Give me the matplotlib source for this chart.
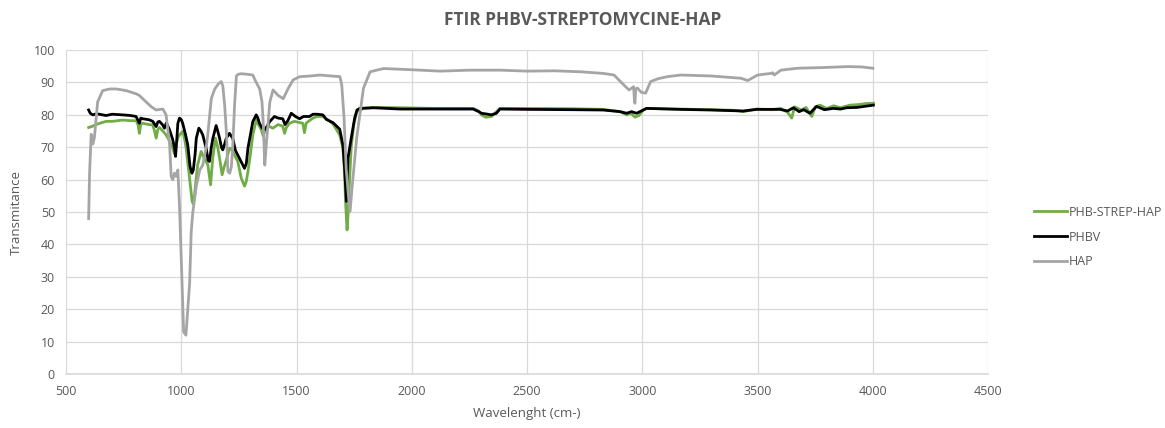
import numpy as np
import matplotlib
matplotlib.use("Agg")
import matplotlib.pyplot as plt

plt.rcParams['font.family'] = ['Open Sans', 'DejaVu Sans']

# ---- data (wavenumber, transmittance) ----
phb_strep_hap = [
    (598, 76.1), (615, 76.5), (630, 77), (650, 77.5), (674, 78), (700, 78), (746, 78.4),
    (780, 78.2), (804, 78.2), (812, 77), (818, 74.3), (824, 77.2), (833, 77.4), (860, 77),
    (876, 76.9), (884, 75), (891, 72.8), (898, 75.5), (905, 76.1), (920, 75), (934, 73.8),
    (945, 72.5), (956, 70.7), (963, 69.7), (970, 68), (978, 71), (985, 73), (992, 73.8),
    (1006, 74.9), (1014, 72.5), (1021, 69.7), (1030, 64), (1036, 60.5), (1047, 53.3),
    (1052, 52.5), (1057, 55), (1064, 60), (1071, 64.6), (1086, 68.7), (1093, 67.5),
    (1100, 66.6), (1115, 64.6), (1122, 61), (1127, 58.4), (1132, 63), (1137, 67),
    (1148, 72.8), (1158, 70), (1166, 66.6), (1177, 61.5), (1186, 64), (1195, 66),
    (1209, 69.7), (1216, 69.5), (1223, 68.7), (1235, 67), (1245, 65.6), (1260, 60.5),
    (1274, 58), (1282, 59.5), (1289, 62.5), (1300, 68), (1310, 73.8), (1325, 78.4),
    (1335, 77), (1347, 75.4), (1355, 73.5), (1368, 75.9), (1380, 76.5), (1397, 75.9),
    (1420, 77), (1440, 76.5), (1448, 74.3), (1455, 76), (1469, 77.4), (1490, 78),
    (1527, 77.4), (1534, 74.5), (1542, 77.5), (1571, 79), (1590, 79.5), (1614, 79.5),
    (1635, 78.5), (1658, 77.2), (1687, 73.8), (1701, 69.7), (1708, 62), (1713, 52.2),
    (1719, 44.5), (1724, 50), (1730, 60), (1737, 70), (1748, 77), (1761, 81), (1790, 82),
    (1850, 82.3), (1950, 82.2), (2100, 82), (2266, 82), (2290, 81.2), (2302, 80),
    (2320, 79.3), (2345, 79.5), (2360, 80.5), (2382, 82), (2500, 82), (2700, 81.9),
    (2830, 81.7), (2903, 81), (2932, 80), (2950, 80.5), (2968, 79.3), (2985, 79.8),
    (3004, 81.5), (3018, 82), (3163, 81.8), (3300, 81.6), (3400, 81.4), (3438, 81),
    (3496, 81.8), (3560, 81.6), (3600, 82), (3630, 80.8), (3648, 79), (3660, 82.5),
    (3690, 81.5), (3710, 82.3), (3735, 79.5), (3750, 82.5), (3770, 83), (3800, 82),
    (3830, 82.8), (3860, 82.2), (3900, 83), (3940, 83.2), (3970, 83.5), (4002, 83.6),
]

phbv = [
    (598, 81.5), (605, 80.5), (616, 80), (630, 80.3), (645, 80.2), (673, 79.8), (700, 80.2),
    (746, 80), (780, 79.8), (804, 79.5), (818, 77.4), (824, 79), (833, 78.8), (860, 78.5),
    (876, 78), (891, 76.4), (898, 77.8), (905, 78), (918, 77), (927, 75.9), (935, 77.5),
    (949, 75.4), (963, 72.3), (970, 70), (975, 67.2), (980, 72), (985, 77.4), (992, 79),
    (1000, 78.5), (1006, 77.4), (1018, 74), (1028, 70.7), (1038, 64), (1046, 62),
    (1052, 63), (1060, 68), (1065, 72.8), (1076, 75.9), (1085, 75), (1093, 73.8),
    (1108, 69.7), (1116, 66), (1122, 65.6), (1130, 70), (1137, 72.8), (1151, 76.7),
    (1158, 75), (1166, 72.8), (1174, 70), (1180, 69.2), (1188, 71), (1195, 72.8),
    (1209, 74.3), (1216, 73.5), (1223, 72.8), (1235, 69), (1245, 67.6), (1260, 65.5),
    (1274, 63.5), (1282, 65), (1289, 69.7), (1300, 74), (1310, 77.9), (1325, 80),
    (1332, 79), (1339, 77.4), (1350, 76), (1361, 75.4), (1372, 76.5), (1383, 77.9),
    (1404, 79.5), (1420, 79), (1440, 78.8), (1450, 77), (1462, 78.2), (1477, 80.5),
    (1495, 79.5), (1513, 78.8), (1530, 79.5), (1556, 79.5), (1571, 80.2), (1590, 80.2),
    (1614, 80), (1629, 78.6), (1658, 77.6), (1687, 75.6), (1701, 70.7), (1708, 64),
    (1716, 53.3), (1723, 66.6), (1737, 72.8), (1752, 79), (1762, 81.5), (1774, 82),
    (1832, 82.2), (1948, 81.8), (2092, 81.8), (2266, 81.8), (2290, 81), (2302, 80.5),
    (2330, 80.2), (2345, 80), (2367, 80.5), (2382, 81.8), (2500, 81.7), (2700, 81.6),
    (2830, 81.5), (2903, 81), (2932, 80.5), (2953, 81), (2975, 80.5), (3004, 81.5),
    (3018, 82), (3163, 81.7), (3300, 81.5), (3400, 81.3), (3438, 81.2), (3496, 81.7),
    (3597, 81.7), (3630, 81.2), (3655, 82.2), (3680, 81), (3700, 81.6), (3727, 80.5),
    (3740, 81.5), (3756, 82.6), (3790, 81.6), (3828, 82), (3860, 81.8), (3886, 82.2),
    (3930, 82.3), (3960, 82.6), (4002, 83),
]

hap = [
    (598, 48), (602, 62), (609, 74), (616, 71), (623, 73), (637, 84), (659, 87.5),
    (690, 88), (717, 88), (760, 87.5), (804, 86.5), (818, 86), (847, 84), (870, 82.5),
    (891, 81.5), (920, 81.8), (934, 80), (949, 71), (956, 61), (963, 60), (970, 62),
    (977, 61), (985, 63), (992, 52), (1000, 35), (1010, 13), (1020, 12), (1036, 28),
    (1043, 44), (1050, 50), (1065, 58), (1071, 60), (1080, 63), (1093, 64.5), (1108, 70),
    (1115, 74), (1130, 85), (1145, 88), (1160, 89.5), (1173, 90.3), (1180, 89), (1188, 83),
    (1196, 74), (1202, 62.5), (1210, 62), (1217, 64), (1223, 70), (1231, 83), (1239, 92),
    (1246, 92.5), (1260, 92.7), (1290, 92.5), (1310, 92.3), (1325, 90), (1340, 88),
    (1350, 84), (1355, 78), (1362, 64.5), (1370, 72), (1384, 84), (1398, 87.7), (1420, 86),
    (1442, 85), (1464, 88.2), (1485, 90.8), (1514, 91.8), (1560, 92), (1601, 92.3),
    (1650, 92), (1688, 91.8), (1696, 89.2), (1706, 79), (1715, 63.5), (1725, 55),
    (1732, 50.2), (1740, 57), (1761, 73), (1790, 88.2), (1819, 93.3), (1877, 94.3),
    (1978, 94), (2123, 93.5), (2250, 93.8), (2384, 93.8), (2500, 93.5), (2620, 93.6),
    (2732, 93.3), (2830, 92.8), (2877, 92.3), (2920, 89.2), (2942, 87.7), (2962, 88.7),
    (2966, 84), (2968, 83.6), (2971, 88), (2978, 88.3), (2995, 87), (3014, 86.7),
    (3036, 90.3), (3070, 91.2), (3109, 91.8), (3167, 92.3), (3300, 92), (3428, 91.3),
    (3457, 90.6), (3500, 92.3), (3558, 92.8), (3565, 93), (3572, 92.3), (3601, 93.8),
    (3674, 94.4), (3780, 94.6), (3891, 94.9), (3950, 94.8), (4000, 94.4),
]

series_names = ['PHB-STREP-HAP', 'PHBV', 'HAP']
series_colors = ['#70AD47', '#000000', '#A5A5A5']
x_ticks = np.arange(500, 4501, 500)
y_ticks = np.arange(0, 101, 10)

# ---- figure ----
fig = plt.figure(figsize=(11.65, 4.28), dpi=100)
ax = fig.add_axes([0.0567, 0.126, 0.7915, 0.757])

for data, name, col in zip([phb_strep_hap, phbv, hap], series_names, series_colors):
    arr = np.array(data)
    ax.plot(arr[:, 0], arr[:, 1], color=col, lw=2, label=name, solid_joinstyle='round')

ax.set_xlim(500, 4500)
ax.set_ylim(0, 100)
ax.set_xticks(x_ticks)
ax.set_yticks(y_ticks)
ax.grid(True, color='#D9D9D9', lw=0.9)
ax.set_axisbelow(True)
for s in ['top', 'right', 'left']:
    ax.spines[s].set_visible(False)
ax.spines['bottom'].set_color('#D9D9D9')
ax.spines['bottom'].set_linewidth(1.2)
ax.tick_params(length=0, labelsize=9, colors='#595959', pad=8)

ax.set_xlabel('Wavelenght (cm-)', fontsize=9.5, color='#595959', labelpad=6)
ax.set_ylabel('Transmitance', fontsize=9.5, color='#595959', labelpad=8)
fig.suptitle('FTIR PHBV-STREPTOMYCINE-HAP', x=0.5, y=0.975, fontsize=12.5,
             fontweight='bold', color='#595959')

fig.legend(loc='center left', bbox_to_anchor=(0.878, 0.446), frameon=False,
           fontsize=9, labelcolor='#595959', handlelength=2.6, handletextpad=0.2,
           labelspacing=0.95)

fig.savefig('out.png', dpi=100)
